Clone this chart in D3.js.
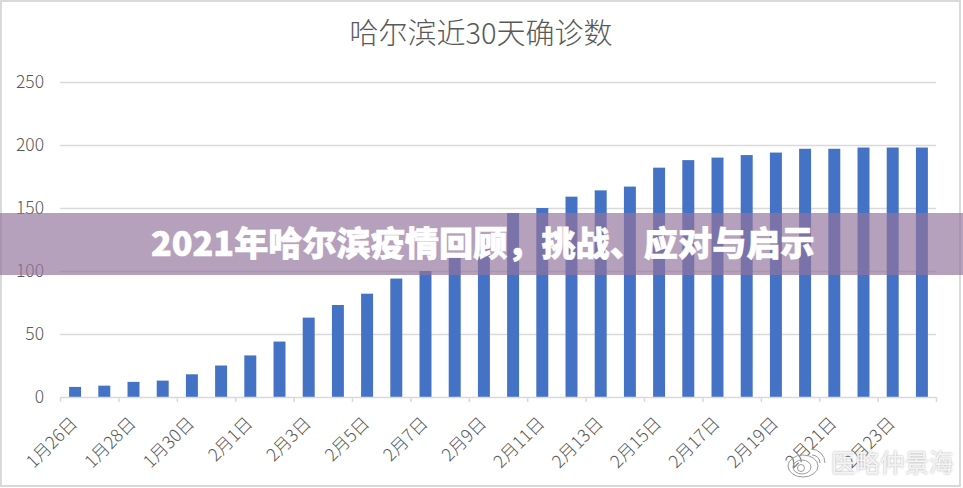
<!DOCTYPE html>
<html lang="zh-CN">
<head>
    <meta charset="UTF-8">
    <title>哈尔滨近30天确诊数</title>
    <script src="https://d3js.org/d3.v7.min.js"></script>
    <style>
        html, body { margin: 0; padding: 0; background: #fff; overflow: hidden; }
        svg { display: block; }
        text { font-family: "Noto Sans CJK SC", "Noto Sans", sans-serif; }
    </style>
</head>
<body>
<div id="chart"></div>
<script>
    var chartTitle = "哈尔滨近30天确诊数";
    var bannerTitle = "2021年哈尔滨疫情回顾，挑战、应对与启示";
    var watermark = "医略仲景海";

    var dates = ["1月26日","1月27日","1月28日","1月29日","1月30日","1月31日","2月1日","2月2日","2月3日","2月4日",
        "2月5日","2月6日","2月7日","2月8日","2月9日","2月10日","2月11日","2月12日","2月13日","2月14日",
        "2月15日","2月16日","2月17日","2月18日","2月19日","2月20日","2月21日","2月22日","2月23日","2月24日"];
    var cases = [8,9,12,13,18,25,33,44,63,73,82,94,100,114,130,146,150,159,164,167,182,188,190,192,194,197,197,198,198,198];
    var yTicks = [0,50,100,150,200,250];

    var width = 963, height = 488;
    var plot = {left: 60, right: 936, top: 82, bottom: 397};

    var svg = d3.select("#chart").append("svg")
        .attr("width", width)
        .attr("height", height);

    // outer frame of the pasted chart
    svg.append("rect")
        .attr("x", 1).attr("y", 1)
        .attr("width", 959).attr("height", 485)
        .attr("fill", "#fff")
        .attr("stroke", "#d9d9d9")
        .attr("stroke-width", 2);

    var x = d3.scaleBand().domain(dates).range([plot.left + 0.5, plot.right + 0.5]).paddingInner(0.59).paddingOuter(0.295);
    var xEdges = d3.scaleLinear().domain([0, dates.length]).range([plot.left, plot.right]);
    var y = d3.scaleLinear().domain([0, 250]).range([plot.bottom, plot.top]);

    svg.append("text")
        .attr("x", 481).attr("y", 36)
        .attr("text-anchor", "middle")
        .attr("dominant-baseline", "middle")
        .attr("font-size", 29)
        .attr("font-weight", 300)
        .attr("fill", "#595959")
        .text(chartTitle);

    // y axis and grid
    var yAxis = svg.append("g")
        .attr("transform", "translate(" + plot.left + ",0)")
        .call(d3.axisLeft(y).tickValues(yTicks).tickSize(0).tickPadding(16));
    yAxis.select(".domain").remove();
    yAxis.selectAll("text")
        .attr("font-size", 17.5)
        .attr("font-weight", 300)
        .attr("fill", "#595959");
    yAxis.selectAll("line")
        .filter(function (d) { return d !== 0; })
        .attr("x2", plot.right - plot.left)
        .attr("stroke", "#d9d9d9")
        .attr("stroke-width", 1.5);

    // bars
    svg.append("g").selectAll("rect")
        .data(dates)
        .enter().append("rect")
        .attr("x", function (d) { return x(d); })
        .attr("y", function (d, i) { return y(cases[i]); })
        .attr("width", x.bandwidth())
        .attr("height", function (d, i) { return y(0) - y(cases[i]); })
        .attr("fill", "#4472c4");

    // x axis: ticks sit on category edges, every second one
    var edgeTicks = d3.range(0, dates.length + 1, 2);
    var xAxis = svg.append("g")
        .attr("transform", "translate(0," + plot.bottom + ")")
        .call(d3.axisBottom(xEdges).tickValues(edgeTicks).tickSize(5).tickSizeOuter(0).tickFormat(function (d) { return dates[d] || ""; }));
    xAxis.select(".domain").attr("stroke", "#d9d9d9").attr("stroke-width", 1.5);
    xAxis.selectAll("line").attr("stroke", "#d9d9d9").attr("stroke-width", 1.5);
    xAxis.selectAll("text")
        .attr("font-size", 17.5)
        .attr("font-weight", 300)
        .attr("fill", "#595959")
        .attr("text-anchor", "end")
        .attr("dominant-baseline", "middle")
        .attr("y", 0)
        .attr("dy", 0)
        .attr("transform", function () { return "translate(" + (x.bandwidth() / 2 + x.step() * 0.295) + ",24) rotate(-45)"; });

    // watermark
    var mark = svg.append("g").attr("fill", "none").attr("stroke", "#9a9a9a").attr("stroke-width", 1);
    mark.append("ellipse").attr("cx", 803).attr("cy", 466).attr("rx", 15).attr("ry", 11);
    mark.append("ellipse").attr("cx", 802).attr("cy", 467).attr("rx", 9).attr("ry", 7);
    mark.append("circle").attr("cx", 801).attr("cy", 468).attr("r", 3.5);
    mark.append("path").attr("d", "M811 449 A14 14 0 0 1 825 463");
    mark.append("path").attr("d", "M812 455 A8 8 0 0 1 820 463");

    svg.append("text")
        .attr("x", 831).attr("y", 465)
        .attr("dominant-baseline", "middle")
        .attr("font-size", 24.5)
        .attr("fill", "#f4f4f4")
        .style("filter", "drop-shadow(0 0 1px #b0b0b0)")
        .text(watermark);

    // banner across the middle
    svg.append("rect")
        .attr("x", 0).attr("y", 213)
        .attr("width", width).attr("height", 62)
        .attr("fill", "rgb(147,116,156)")
        .attr("opacity", 0.68);

    svg.append("text")
        .attr("x", 151).attr("y", 247)
        .attr("dominant-baseline", "middle")
        .attr("font-size", 34.15)
        .attr("font-weight", 900)
        .attr("fill", "#fff")
        .attr("stroke", "#fff")
        .attr("stroke-width", 0.6)
        .text(bannerTitle);
</script>
</body>
</html>
